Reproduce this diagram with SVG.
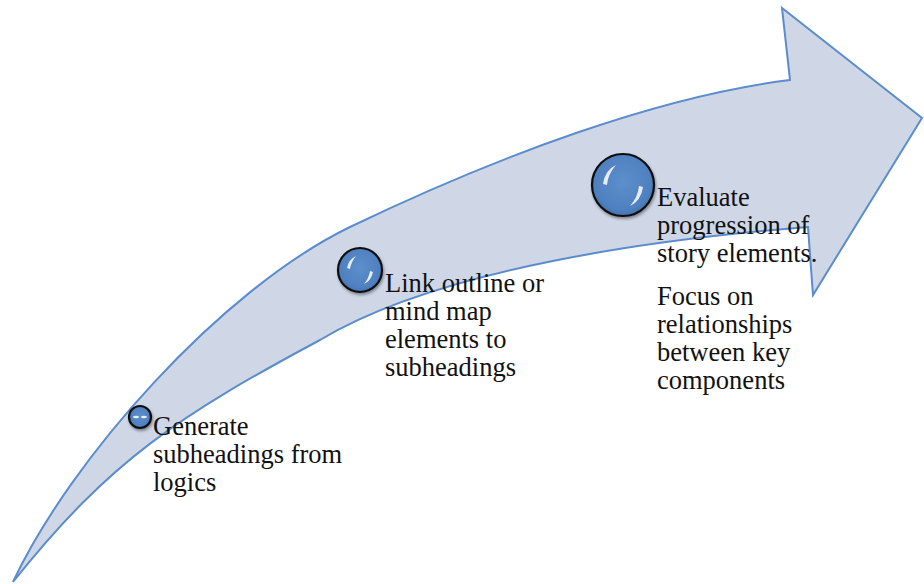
<svg xmlns="http://www.w3.org/2000/svg" width="924" height="584" viewBox="0 0 924 584">
<style>
.arrow{fill:#cfd7e6;stroke:#5b8ccc;stroke-width:2;stroke-linejoin:miter}
.ring{fill:url(#ball);stroke:#111;stroke-width:2.2}
.hl{fill:#fff;opacity:0.85}
text{font-family:'Liberation Serif','DejaVu Serif',serif;font-size:26.5px;fill:#111}
</style>
<defs>
<radialGradient id="ball" cx="0.5" cy="0.45" r="0.6">
<stop offset="0" stop-color="#5d8fcc"/>
<stop offset="0.75" stop-color="#4f80bf"/>
<stop offset="1" stop-color="#3d6ba8"/>
</radialGradient>
<filter id="sh" x="-30%" y="-30%" width="160%" height="160%">
<feGaussianBlur in="SourceAlpha" stdDeviation="1.5"/>
<feOffset dx="1" dy="2" result="b"/>
<feComponentTransfer><feFuncA type="linear" slope="0.4"/></feComponentTransfer>
<feMerge><feMergeNode/><feMergeNode in="SourceGraphic"/></feMerge>
</filter>
</defs>
<g id="arrow">
<path class="arrow" d="M 13 582 C 70 460 220 290 350 227 C 500 155 660 96 790 80 L 782 8 L 922 118 L 813 295 L 808 227 C 658 239 440 268 320 340 C 180 415 110 460 13 582 Z"/>
</g>
<g id="connectors"></g>
<g id="node1">
<g filter="url(#sh)">
<circle class="ring" cx="140" cy="417" r="11"/>
<ellipse class="hl" cx="136" cy="417" rx="3" ry="1.2"/>
<ellipse class="hl" cx="144" cy="417" rx="3" ry="1.2"/>
</g>
<text x="153" y="435">Generate</text>
<text x="153" y="463">subheadings from</text>
<text x="153" y="491">logics</text>
</g>
<g id="node2">
<g filter="url(#sh)">
<circle class="ring" cx="360" cy="270" r="22"/>
<path class="hl" d="M 347 268 Q 349 259 356 256 Q 351 262 350 269 Z"/>
<path class="hl" d="M 373 272 Q 371 281 364 284 Q 369 278 370 271 Z"/>
</g>
<text x="385" y="292">Link outline or</text>
<text x="385" y="320">mind map</text>
<text x="385" y="348">elements to</text>
<text x="385" y="376">subheadings</text>
</g>
<g id="node3">
<g filter="url(#sh)">
<circle class="ring" cx="623" cy="185" r="31"/>
<path class="hl" d="M 603 184 Q 605 170 616 165 Q 608 174 607 185 Z"/>
<path class="hl" d="M 643 187 Q 641 201 630 206 Q 638 197 639 186 Z"/>
</g>
<text x="657" y="206">Evaluate</text>
<text x="657" y="234">progression of</text>
<text x="657" y="262">story elements.</text>
<text x="657" y="305">Focus on</text>
<text x="657" y="333">relationships</text>
<text x="657" y="361">between key</text>
<text x="657" y="389">components</text>
</g>
</svg>
